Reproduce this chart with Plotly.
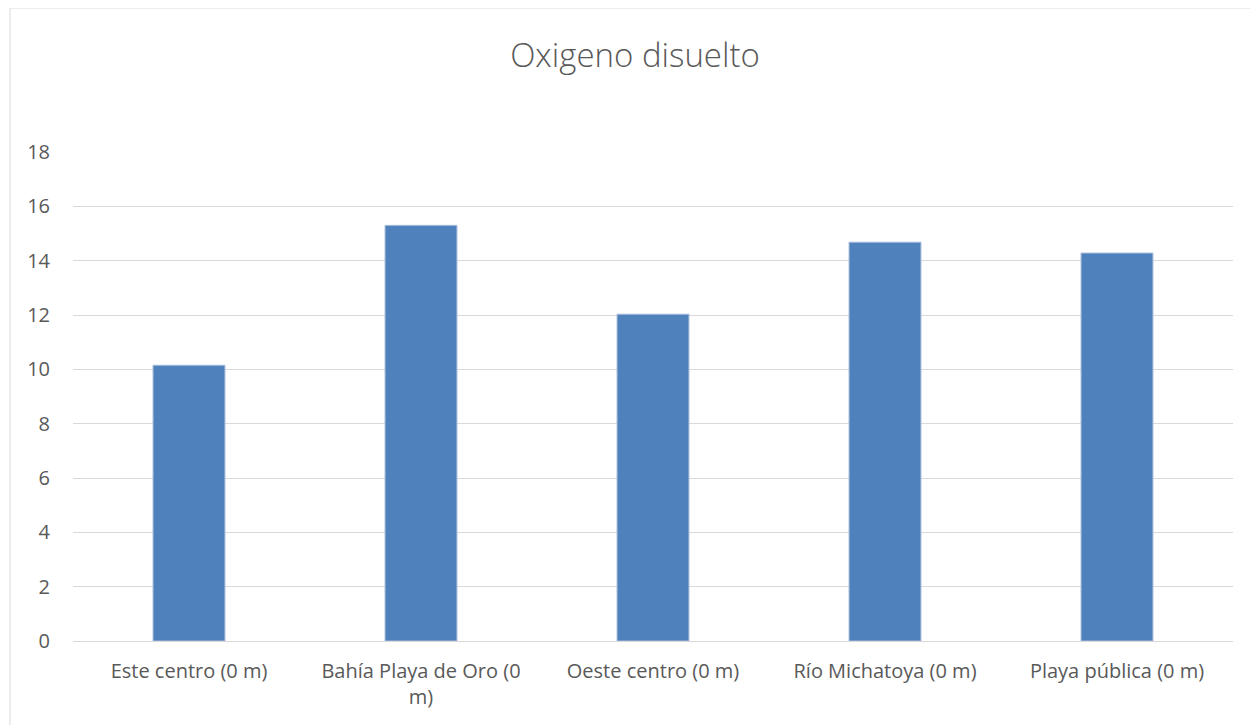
import plotly.graph_objects as go

categories = ["Este centro (0 m)", "Bahía Playa de Oro (0<br>m)", "Oeste centro (0 m)",
              "Río Michatoya (0 m)", "Playa pública (0 m)"]
values = [10.15, 15.3, 12.03, 14.68, 14.28]
y_ticks = [0, 2, 4, 6, 8, 10, 12, 14, 16, 18]

OFF = 8  # browser body margin
W, H = 1258 - OFF, 725 - OFF
ml, mr, mt, mb = 73 - OFF, 25, 152 - OFF, 84
pw, ph = W - ml - mr, H - mt - mb

fig = go.Figure(go.Bar(
    x=categories, y=values,
    marker=dict(color="#4f81bd", line=dict(color="#a7bddb", width=1)),
    width=0.31,
))

fig.update_layout(
    width=W, height=H,
    margin=dict(l=ml, r=mr, t=mt, b=mb),
    paper_bgcolor="white", plot_bgcolor="white",
    font=dict(family="Open Sans", color="#595959", size=20),
    title=dict(text="Oxigeno disuelto", x=(635 - OFF) / W, xanchor="center",
               y=1 - (55 - OFF) / H, yanchor="middle",
               font=dict(size=33, color="#595959", family="Open Sans", weight=300)),
    showlegend=False,
    bargap=0.69,
    xaxis=dict(showgrid=False, showline=False, ticks="", ticklabelstandoff=16,
               tickfont=dict(size=20, color="#595959")),
    yaxis=dict(range=[0, 18], tickvals=y_ticks, showgrid=True, gridcolor="#d9d9d9", gridwidth=1,
               zeroline=True, zerolinecolor="#d9d9d9", zerolinewidth=1,
               showline=False, ticks="", ticklabelstandoff=22,
               tickfont=dict(size=20, color="#595959")),
    shapes=[dict(type="rect", xref="paper", yref="paper",
                 x0=(10 - 73) / pw, x1=(1258 + 5 - 73) / pw,
                 y0=-(mb + 5) / ph, y1=1 + (152 - 8) / ph,
                 line=dict(color="#d9d9d9", width=1), fillcolor="rgba(0,0,0,0)", layer="below")],
)

fig.write_html("out.html")
